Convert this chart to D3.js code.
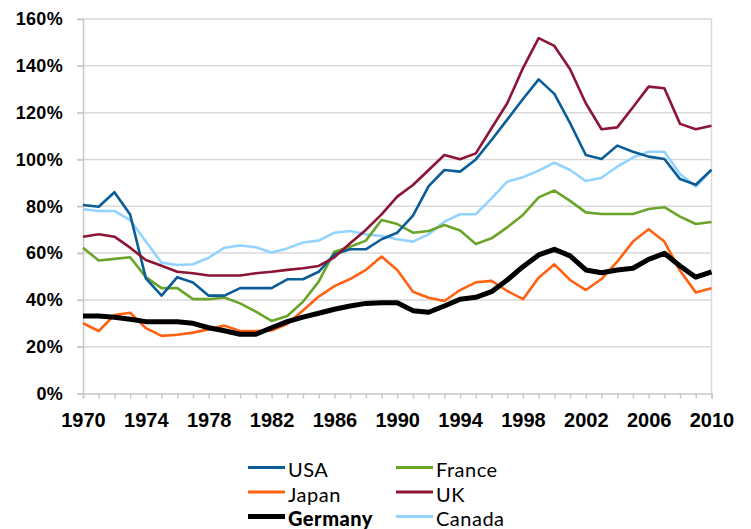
<!DOCTYPE html>
<html>
<head>
<meta charset="utf-8">
<script src="https://cdn.jsdelivr.net/npm/d3@7"></script>
<style>
  body { margin: 0; background: #fff; }
  svg { display: block; }
</style>
</head>
<body>
<div id="chart"></div>
<script>
let wSvg = 751; let hSvg = 529;
let xLeft = 83; let xRight = 711.5;
let yTop = 19; let yBottom = 393.5;

const years = d3.range(1970, 2011);
const yTicks = [0, 20, 40, 60, 80, 100, 120, 140, 160];
const xTicks = [1970, 1974, 1978, 1982, 1986, 1990, 1994, 1998, 2002, 2006, 2010];

// values in % per year, 1970..2010
const usa = [80.5, 79.8, 86, 76.5, 49.2, 41.8, 49.7, 47.4, 41.8, 41.8, 45, 45, 45, 48.8, 48.8, 52, 59.5, 61.6, 61.6, 65.9, 68.7, 76, 88.6, 95.5, 94.8, 100, 108.3, 117, 125.8, 134.2, 128, 115.5, 101.9, 100.2, 105.9, 103.3, 101.2, 100.2, 91.6, 89.2, 95.6];
const france = [62.3, 56.8, 57.5, 58.2, 49.7, 45, 45, 40.3, 40.3, 41, 38.5, 35, 31, 33.1, 39.2, 47.8, 60.6, 62.7, 65.3, 74.1, 72.4, 68.7, 69.4, 72, 69.6, 63.9, 66.3, 71, 76.3, 83.8, 86.7, 82.3, 77.4, 76.7, 76.7, 76.7, 78.8, 79.6, 75.6, 72.4, 73.3];
const japan = [30, 26.7, 33.5, 34.5, 27.9, 24.6, 25.1, 26, 27.4, 29, 26.7, 26.7, 26.9, 29.7, 35.5, 41.4, 45.9, 48.9, 52.8, 58.5, 52.8, 43.5, 40.9, 39.5, 44.2, 47.5, 48.1, 43.8, 40.3, 49.5, 55.2, 48.5, 44.2, 48.9, 56.3, 64.9, 70.2, 64.9, 52.4, 43.2, 45];
const uk = [67, 68, 67, 62.3, 57, 54.6, 52, 51.4, 50.4, 50.4, 50.4, 51.4, 52, 52.8, 53.5, 54.5, 58.2, 64.2, 69.9, 76.5, 84.1, 89.1, 95.5, 101.9, 100.1, 102.6, 113.3, 124, 139, 151.8, 148.5, 138.5, 124, 112.9, 113.7, 122.3, 131.1, 130.4, 115.2, 112.9, 114.4];
const germany = [33.1, 33.1, 32.6, 31.7, 30.7, 30.7, 30.7, 30, 28.1, 26.8, 25.3, 25.3, 28.1, 30.7, 32.6, 34.3, 36, 37.4, 38.5, 38.8, 38.8, 35.4, 34.7, 37.4, 40.3, 41.1, 43.5, 48.5, 54.2, 59.2, 61.6, 58.8, 52.8, 51.6, 52.8, 53.5, 57.3, 59.9, 54.5, 49.7, 52];
const canada = [78.7, 78, 78, 74.1, 64.9, 55.9, 54.9, 55.2, 58, 62.3, 63.2, 62.5, 60.2, 62, 64.5, 65.3, 68.7, 69.4, 68, 67.3, 65.9, 64.9, 68, 73.4, 76.6, 76.6, 83.4, 90.5, 92.4, 95.2, 98.6, 95.5, 90.8, 92.2, 96.9, 100.8, 103.3, 103.3, 93.8, 88.4, 95.5];

const series = [
  {name: "USA", values: usa, color: "#0b5d98", width: 2.6},
  {name: "Japan", values: japan, color: "#ff6210", width: 2.6},
  {name: "Germany", values: germany, color: "#000000", width: 5},
  {name: "France", values: france, color: "#6aa529", width: 2.6},
  {name: "UK", values: uk, color: "#8c1434", width: 2.6},
  {name: "Canada", values: canada, color: "#93d3ff", width: 2.6}
];
// draw order: Germany on top
const drawOrder = ["Canada", "France", "Japan", "USA", "UK", "Germany"];

let svg = d3.select("#chart")
  .append("svg")
  .attr("width", wSvg)
  .attr("height", hSvg)
  .style("font-family", "Lato, 'Open Sans', sans-serif");

const xScale = d3.scaleLinear().domain([1970, 2010]).range([xLeft, xRight]);
const yScale = d3.scaleLinear().domain([0, 160]).range([yBottom, yTop]);

// gridlines
svg.append("g")
  .selectAll("line")
  .data(yTicks.filter(d => d > 0))
  .enter()
  .append("line")
  .attr("x1", xLeft - 6)
  .attr("x2", xRight)
  .attr("y1", d => yScale(d))
  .attr("y2", d => yScale(d))
  .attr("stroke", "#d9d9d9")
  .attr("stroke-width", 1.5);

// right border
svg.append("line")
  .attr("x1", xRight).attr("x2", xRight)
  .attr("y1", yTop).attr("y2", yBottom)
  .attr("stroke", "#d9d9d9")
  .attr("stroke-width", 1.5);

// y axis
const axisLeft = d3.axisLeft(yScale)
  .tickValues(yTicks)
  .tickSize(6)
  .tickPadding(14)
  .tickFormat(d => d + "%");
const gy = svg.append("g")
  .attr("transform", `translate(${xLeft}, 0)`)
  .call(axisLeft);
gy.selectAll("path, line").attr("stroke", "#c8c8c8").attr("stroke-width", 1.5);
gy.selectAll("text")
  .style("font-size", "18px")
  .style("font-weight", "700")
  .style("letter-spacing", "0.3px")
  .attr("fill", "#000");

// x axis
const axisBottom = d3.axisBottom(xScale)
  .tickValues(years)
  .tickSize(5)
  .tickPadding(14)
  .tickFormat(d => xTicks.includes(d) ? d : "");
const gx = svg.append("g")
  .attr("transform", `translate(0, ${yBottom})`)
  .call(axisBottom);
gx.selectAll("path, line").attr("stroke", "#c8c8c8").attr("stroke-width", 1.5);
gx.selectAll("text")
  .style("font-size", "20px")
  .style("font-weight", "700")
  .attr("fill", "#000");

// lines
const lineGenerator = d3.line()
  .x((d, i) => xScale(years[i]))
  .y(d => yScale(d));

svg.append("g")
  .selectAll("path")
  .data(drawOrder.map(n => series.find(s => s.name === n)))
  .enter()
  .append("path")
  .attr("fill", "none")
  .attr("stroke", d => d.color)
  .attr("stroke-width", d => d.width)
  .attr("stroke-linejoin", "round")
  .attr("d", d => lineGenerator(d.values));

// legend
const legend = svg.append("g");
const legendItems = legend.selectAll("g")
  .data(series)
  .enter()
  .append("g")
  .attr("transform", (d, i) => `translate(${i < 3 ? 248 : 396}, ${467.5 + (i % 3) * 24.5})`);

legendItems.append("line")
  .attr("x1", 0).attr("x2", 37)
  .attr("y1", 0).attr("y2", 0)
  .attr("stroke", d => d.color)
  .attr("stroke-width", d => d.name === "Germany" ? 5 : 3);

legendItems.append("text")
  .attr("x", 40)
  .attr("y", 9.5)
  .style("font-size", "20px")
  .style("font-weight", d => d.name === "Germany" ? "900" : "400")
  .style("letter-spacing", "0.5px")
  .attr("fill", "#000")
  .text(d => d.name);
</script>
</body>
</html>
